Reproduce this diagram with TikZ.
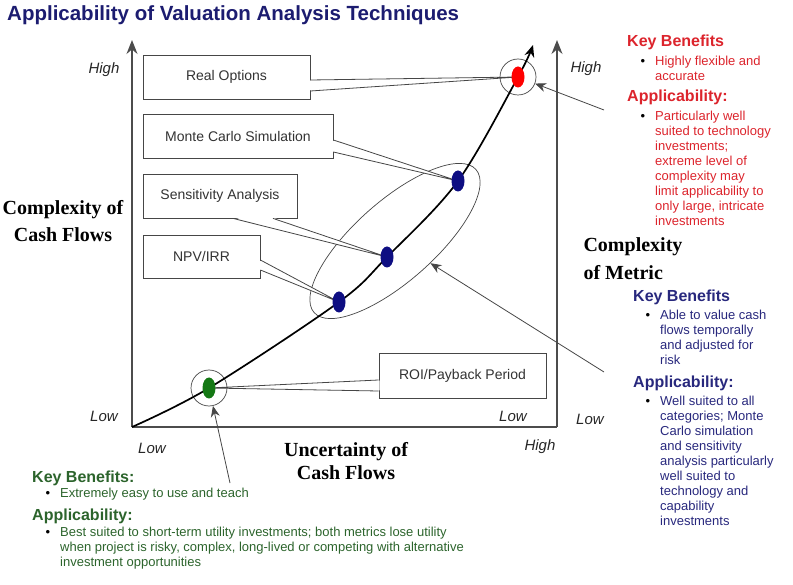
\documentclass[tikz,border=0pt]{standalone}
\usepackage{fontspec}
\setmainfont{Liberation Sans}
\newfontfamily\axisserif{Liberation Serif}
\usetikzlibrary{arrows.meta,positioning,shapes,calc}

\definecolor{titleblue}{RGB}{28,28,112}
\definecolor{navy}{RGB}{40,40,125}
\definecolor{dotblue}{RGB}{14,14,130}
\definecolor{redtext}{RGB}{220,36,44}
\definecolor{greentext}{RGB}{44,100,44}
\definecolor{dotgreen}{RGB}{20,120,20}
\definecolor{linegray}{RGB}{70,70,70}

\newcommand{\bul}{\llap{\textcolor{black}{\textbullet}\hspace{10pt}}}

\begin{document}
\begin{tikzpicture}[x=1pt, y=-1pt]
\tikzstyle{label} = [rectangle, draw=linegray, line width=0.8pt, fill=white, minimum height=44pt, font=\fontsize{14}{16}\selectfont, text=black!80]
\tikzstyle{callout} = [draw=linegray, line width=0.8pt]
\tikzstyle{dot} = [ellipse, minimum width=13pt, minimum height=21pt, inner sep=0pt]
\tikzstyle{ring} = [circle, draw=linegray, line width=0.7pt, minimum size=36pt, inner sep=0pt]
\tikzstyle{axis} = [draw=black!70, line width=1.3pt]
\tikzstyle{pointer} = [draw=linegray, line width=0.8pt, -{Stealth[length=11pt,width=9pt]}]
\tikzstyle{axlab} = [font=\fontsize{15}{18}\selectfont\itshape, text=black!85]
\tikzstyle{axtitle} = [align=center, font=\fontsize{20}{27}\selectfont\axisserif\bfseries]
\tikzstyle{head} = [anchor=base west, inner sep=0pt, font=\fontsize{16}{19}\selectfont\bfseries]
\tikzstyle{body} = [anchor=north west, inner sep=0pt, align=left, font=\fontsize{13}{15}\selectfont]

\useasboundingbox (0,0) rectangle (793,585);

\node (title) [anchor=base west, inner sep=0pt, font=\fontsize{20.5}{24}\selectfont\bfseries, text=titleblue] at (7,21) {Applicability of Valuation Analysis Techniques};

% axes
\coordinate (origin) at (132,427);
\coordinate (ytop) at (132,40);
\coordinate (corner) at (557,427);
\coordinate (rtop) at (557,40);
\draw[axis, -{Stealth[length=14pt,width=11pt]}] (origin) -- (ytop);
\draw[axis] (origin) -- (corner);
\draw[axis, -{Stealth[length=14pt,width=11pt]}] (corner) -- (rtop);

% points on the curve
\coordinate (proi) at (209,388);
\coordinate (pnpv) at (339,302);
\coordinate (psa) at (387,257);
\coordinate (pmc) at (458,181);
\coordinate (pro) at (518,77);
\coordinate (ctip) at (533,45);

\node[draw=linegray, line width=0.7pt, ellipse, minimum width=216pt, minimum height=80pt, rotate=41.5] (group) at (395,241) {};
\node[ring] (roring) at (pro) {};
\node[ring] (roiring) at (proi) {};

\draw[line width=1.7pt, -{Stealth[length=12pt,width=10pt]}] plot[smooth, tension=0.55] coordinates {(origin) (proi) (pnpv) (psa) (pmc) (pro) (ctip)};

% callout boxes
\node[label, minimum width=167pt] (rolabel) at (226.5,77) {Real Options};
\node[label, minimum width=190pt] (mclabel) at (238,136) {Monte Carlo Simulation};
\node[label, minimum width=154pt] (salabel) at (220,196) {Sensitivity Analysis};
\node[label, minimum width=117pt, minimum height=43pt] (npvlabel) at (201.5,256.5) {NPV/IRR};
\node[label, minimum width=167pt, minimum height=45pt] (roilabel) at (462.5,375.5) {ROI/Payback Period};

\fill[white] ($(rolabel.east)+(-1,3.5)$) -- (pro) -- ($(rolabel.east)+(-1,13.5)$) -- cycle;
\draw[callout] ($(rolabel.east)+(0,3)$) -- (pro) -- ($(rolabel.east)+(0,14)$);
\fill[white] ($(mclabel.east)+(-1,4.5)$) -- (pmc) -- ($(mclabel.east)+(-1,15.5)$) -- cycle;
\draw[callout] ($(mclabel.east)+(0,4)$) -- (pmc) -- ($(mclabel.east)+(0,16)$);
\fill[white] ($(salabel.south)+(13.5,-1)$) -- (psa) -- ($(salabel.south)+(52.5,-1)$) -- cycle;
\draw[callout] ($(salabel.south)+(13,0)$) -- (psa) -- ($(salabel.south)+(53,0)$);
\fill[white] ($(npvlabel.east)+(-1,4)$) -- (pnpv) -- ($(npvlabel.east)+(-1,13)$) -- cycle;
\draw[callout] ($(npvlabel.east)+(0,3.5)$) -- (pnpv) -- ($(npvlabel.east)+(0,13.5)$);
\fill[white] ($(roilabel.west)+(1,5)$) -- (proi) -- ($(roilabel.west)+(1,15)$) -- cycle;
\draw[callout] ($(roilabel.west)+(0,4.5)$) -- (proi) -- ($(roilabel.west)+(0,15.5)$);

\node[dot, fill=red] (rodot) at (pro) {};
\node[dot, fill=dotblue] (mcdot) at (pmc) {};
\node[dot, fill=dotblue] (sadot) at (psa) {};
\node[dot, fill=dotblue] (npvdot) at (pnpv) {};
\node[dot, fill=dotgreen] (roidot) at (proi) {};

% pointers from the notes
\coordinate (rnote) at (604,110);
\coordinate (bnote) at (604,372);
\coordinate (gnote) at (230,483);
\draw[pointer] (rnote) -- (roring);
\draw[pointer] (bnote) -- (group);
\draw[pointer] (gnote) -- (roiring);

% axis labels
\node[axlab] (yhigh) at (104,70) {High};
\node[axlab] (ylow) at (104,416) {Low};
\node[axlab] (xlow) at (152,448) {Low};
\node[axlab] (xhigh) at (540,447) {High};
\node[axlab] (mhigh) at (586,69) {High};
\node[axlab] (mlow) at (513,416) {Low};
\node[axlab] (rlow) at (590,419) {Low};

\node[axtitle] (cflows) at (63,221) {Complexity of\\Cash Flows};
\node[axtitle, font=\fontsize{20}{23}\selectfont\axisserif\bfseries] (uncert) at (346,461) {Uncertainty of\\Cash Flows};
\node[axtitle, align=left, anchor=west, font=\fontsize{20}{28}\selectfont\axisserif\bfseries] (cmetric) at (580,259) {Complexity\\of Metric};

% notes
\node[head, text=redtext] (rokb) at (627,47) {Key Benefits};
\node[body, text=redtext] (rokbtext) at (655,55.5) {\bul Highly flexible and\\accurate};
\node[head, text=redtext] (roapp) at (627,102) {Applicability:};
\node[body, text=redtext] (roapptext) at (655,110.5) {\bul Particularly well\\suited to technology\\investments;\\extreme level of\\complexity may\\limit applicability to\\only large, intricate\\investments};

\node[head, text=navy] (mkb) at (633,302) {Key Benefits};
\node[body, text=navy] (mkbtext) at (660,309.5) {\bul Able to value cash\\flows temporally\\and adjusted for\\risk};
\node[head, text=navy] (mapp) at (633,388) {Applicability:};
\node[body, text=navy] (mapptext) at (660,395.5) {\bul Well suited to all\\categories; Monte\\Carlo simulation\\and sensitivity\\analysis particularly\\well suited to\\technology and\\capability\\investments};

\node[head, text=greentext] (pkb) at (32,482) {Key Benefits:};
\node[body, text=greentext] (pkbtext) at (60,487.5) {\bul Extremely easy to use and teach};
\node[head, text=greentext] (papp) at (32,520) {Applicability:};
\node[body, text=greentext] (papptext) at (60,526.5) {\bul Best suited to short-term utility investments; both metrics lose utility\\when project is risky, complex, long-lived or competing with alternative\\investment opportunities};
\end{tikzpicture}
\end{document}
